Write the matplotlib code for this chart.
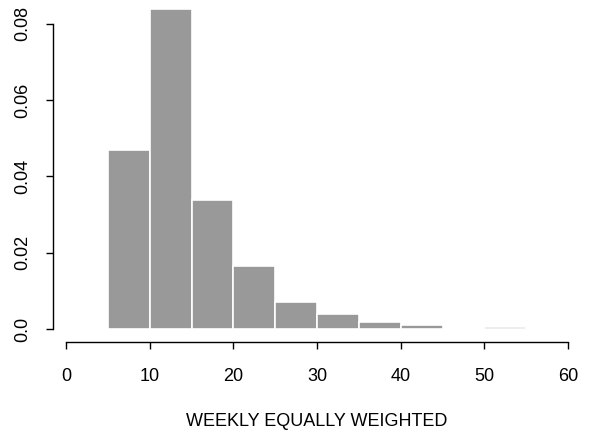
import matplotlib
matplotlib.use("Agg")
import matplotlib.pyplot as plt

# histogram bins (width 5) and density heights
bin_edges = [5, 10, 15, 20, 25, 30, 35, 40, 45, 50, 55, 60]
densities = [0.0469, 0.0838, 0.0338, 0.0165, 0.0072, 0.0040, 0.0018, 0.0011, 0.0, 0.0005, 0.0]
x_ticks = [0, 10, 20, 30, 40, 50, 60]
y_ticks = [0.0, 0.02, 0.04, 0.06, 0.08]
y_tick_labels = ["0.0", "0.02", "0.04", "0.06", "0.08"]

plt.rcParams['font.family'] = ['Liberation Sans', 'DejaVu Sans']

W, H = 590, 436
fig = plt.figure(figsize=(W / 100, H / 100), dpi=100)

# axes box in pixels: left spine at x=53, bottom spine at y=342
left_px, right_px, top_px, bottom_px = 53, 580, 5, 342
ax = fig.add_axes([left_px / W, 1 - bottom_px / H,
                   (right_px - left_px) / W, (bottom_px - top_px) / H])

# data -> pixel mapping: x=0 at 66px, x=60 at 568px ; y=0 at 329px, y=0.08 at 23.7px
sx = (568 - 66) / 60.0
sy = (329 - 23.7) / 0.08
ax.set_xlim((left_px - 66) / sx, (right_px - 66) / sx)
ax.set_ylim((329 - bottom_px) / sy, (329 - top_px) / sy)

widths = [bin_edges[i + 1] - bin_edges[i] for i in range(len(densities))]
ax.bar(bin_edges[:-1], densities, width=widths, align='edge',
       color='#999999', edgecolor='white', linewidth=1.2)

for s in ['top', 'right']:
    ax.spines[s].set_visible(False)
ax.spines['left'].set_bounds(0, 0.08)
ax.spines['bottom'].set_bounds(0, 60)
for s in ['left', 'bottom']:
    ax.spines[s].set_linewidth(1.0)
    ax.spines[s].set_color('black')

ax.set_xticks(x_ticks)
ax.set_xticklabels([str(t) for t in x_ticks])
ax.set_yticks(y_ticks)
ax.set_yticklabels(y_tick_labels, rotation=90, va='center')
ax.tick_params(axis='both', direction='out', length=5, width=1.0,
               labelsize=13, colors='black')
ax.tick_params(axis='x', pad=14)
ax.tick_params(axis='y', pad=11)

ax.set_xlabel("WEEKLY EQUALLY WEIGHTED", fontsize=13, labelpad=20)

fig.savefig("out.png", dpi=100)
